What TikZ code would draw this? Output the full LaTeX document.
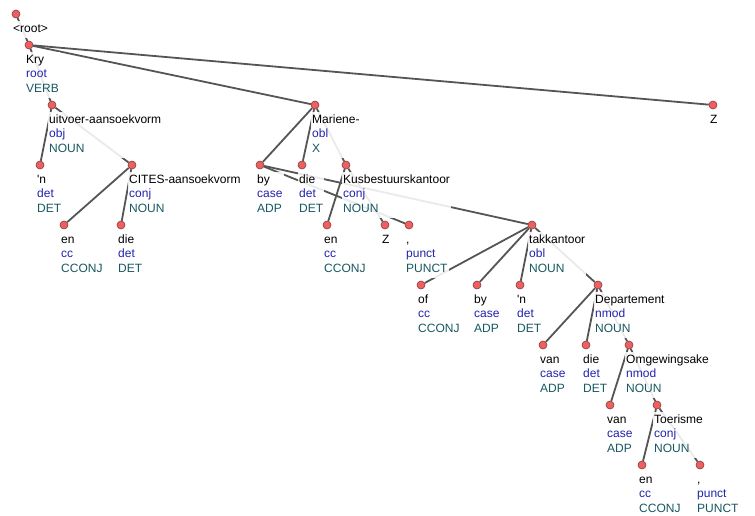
\documentclass[tikz,border=0pt]{standalone}
\usepackage{fontspec}
\setmainfont{Liberation Sans}
\usetikzlibrary{backgrounds}
\definecolor{dotred}{RGB}{238,96,96}
\definecolor{dotrim}{RGB}{130,60,60}
\definecolor{edgegray}{RGB}{85,85,85}
\definecolor{relblue}{RGB}{34,34,178}
\definecolor{posteal}{RGB}{22,88,96}
\begin{document}
\begin{tikzpicture}
[x=1pt,y=-1pt,
 dot/.style={circle,minimum size=8pt,inner sep=0pt,fill=dotred,draw=dotrim,line width=0.6pt},
 lbl/.style={anchor=north west,align=left,inner sep=1pt,fill=white,fill opacity=0.88,text opacity=1,
   font=\fontsize{12}{14.5}\selectfont},
 edge/.style={draw=edgegray,line width=1.8pt}]
\useasboundingbox (0,0) rectangle (755,515);
% tokens with word only
\foreach \n/\x/\y/\w in {root/16/14/<root>, za/385/225/Z, zb/713/105/Z}
{
\node[dot] (\n) at (\x,\y) {};
\node[lbl] (\n-l) at (\x-4,\y+7) {\strut\w};
}
% tokens with word, relation and tag
\foreach \n/\x/\y/\w/\r/\p in {
 kry/29/45/Kry/root/VERB,
 uitvoer/52/105/uitvoer-aansoekvorm/obj/NOUN,
 na/40/165/\textquotesingle n/det/DET,
 cites/132/165/CITES-aansoekvorm/conj/NOUN,
 ena/64/225/en/cc/CCONJ,
 diea/121/225/die/det/DET,
 mariene/315/105/Mariene-/obl/X,
 bya/260/165/by/case/ADP,
 dieb/302/165/die/det/DET,
 kusb/346/165/Kusbestuurskantoor/conj/NOUN,
 enb/327/225/en/cc/CCONJ,
 pa/409/225/{,}/punct/PUNCT,
 takk/532/225/takkantoor/obl/NOUN,
 of/421/285/of/cc/CCONJ,
 byb/477/285/by/case/ADP,
 nb/520/285/\textquotesingle n/det/DET,
 dep/598/285/Departement/nmod/NOUN,
 vana/543/345/van/case/ADP,
 diec/586/345/die/det/DET,
 omg/629/345/Omgewingsake/nmod/NOUN,
 vanb/610/405/van/case/ADP,
 toer/657/405/Toerisme/conj/NOUN,
 enc/642/465/en/cc/CCONJ,
 pb/700/465/{,}/punct/PUNCT}
{
\node[dot] (\n) at (\x,\y) {};
\node[lbl] (\n-l) at (\x-4,\y+7)
  {\strut\w\\\textcolor{relblue}{\strut\r}\\\textcolor{posteal}{\strut\p}};
}
\begin{scope}[on background layer]
\foreach \from/\to in {root/kry,kry/uitvoer,kry/mariene,kry/zb,uitvoer/na,uitvoer/cites,
  cites/ena,cites/diea,mariene/bya,mariene/dieb,mariene/kusb,kusb/enb,kusb/za,bya/pa,bya/takk,
  takk/of,takk/byb,takk/nb,takk/dep,dep/vana,dep/diec,dep/omg,omg/vanb,omg/toer,toer/enc,toer/pb}
\draw[edge] (\from) -- (\to);
\end{scope}
\end{tikzpicture}
\end{document}
